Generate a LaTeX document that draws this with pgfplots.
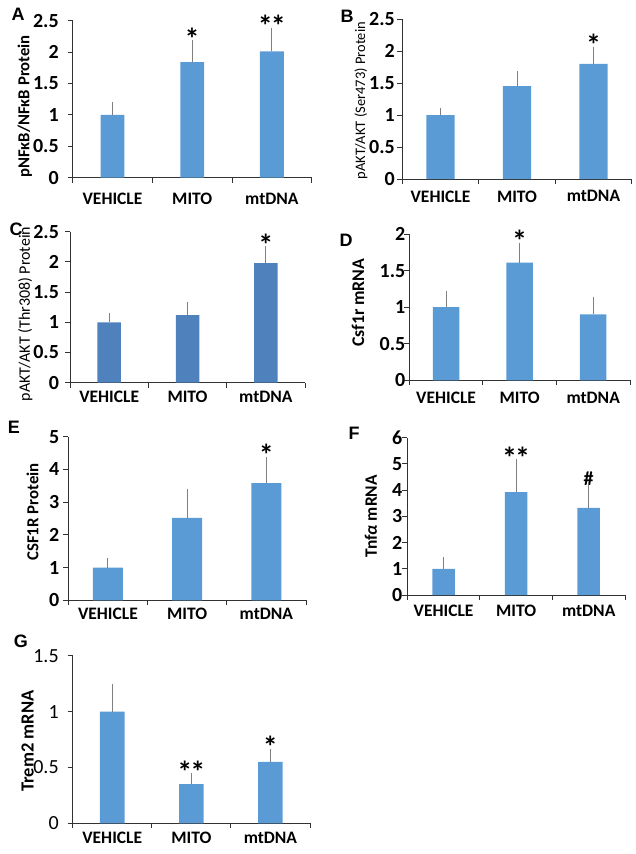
\documentclass[border=0pt]{standalone}
\usepackage{pgfplots}
\pgfplotsset{compat=1.18}
\usepackage{fontspec}
\setmainfont{Carlito}
\newfontfamily\letterfont{Liberation Sans}

\definecolor{barblue}{RGB}{91,155,213}
\definecolor{bardark}{RGB}{79,129,189}
\definecolor{errgray}{RGB}{128,128,128}
\definecolor{axisgray}{RGB}{50,50,50}

\newcommand\tickfont{\fontsize{20}{22}\selectfont\bfseries}
\newcommand\catfont{\fontsize{17.5}{19}\selectfont\bfseries}
\newcommand\starfont{\fontsize{30}{32}\selectfont\bfseries}
\newcommand\letfont{\letterfont\fontsize{18}{20}\selectfont\bfseries}
\newcommand\dstar{*\kern-2pt*}

\tikzset{star/.style={anchor=base, inner sep=0, yshift=-6pt, font=\starfont}}

\pgfplotsset{
  panel/.style={
    scale only axis,
    axis x line*=bottom, axis y line*=left,
    xmin=-0.5, xmax=2.5, ymin=0,
    enlargelimits=false,
    xtick={0,1,2}, xticklabels={VEHICLE,MITO,mtDNA},
    minor xtick={-0.5,0.5,1.5,2.5},
    tick align=outside,
    major tick length=5pt, minor tick length=5pt,
    tick style={axisgray, line width=0.9pt},
    major x tick style={draw=none},
    axis line style={axisgray, line width=0.9pt},
    yticklabel style={font=\tickfont},
    xticklabel style={font=\catfont},
    /pgf/number format/assume math mode=true,
    ybar, bar shift=0pt,
    clip=false,
  },
  bars/.style={fill=barblue, draw=none,
    error bars/y dir=plus, error bars/y explicit,
    error bars/error bar style={errgray, line width=0.9pt},
    error bars/error mark options={errgray, line width=0.9pt, mark size=3pt},
  },
}

\begin{document}
\begin{tikzpicture}
\useasboundingbox (0,0) rectangle (635pt,-854pt);

% A
\begin{axis}[panel, at={(72.7pt,-177.7pt)}, anchor=south west,
  width=239pt, height=157pt, ymax=2.5, ytick={0,0.5,1,1.5,2,2.5},
  yticklabel style={xshift=-5.5pt}, xticklabel style={yshift=-7pt},
  ylabel={pNFκB/NFκB Protein},
  ylabel style={font=\fontsize{16.7}{18}\selectfont\bfseries, at={(axis description cs:-0.20,0.453)}, anchor=center}]
\addplot[bars, bar width=0.3] coordinates {(0,1.00) +- (0,0.15) (1,1.84) +- (0,0.30) (2,2.01) +- (0,0.33)};
\node[star] at (axis cs:1,2.14) {*};
\node[star] at (axis cs:2,2.34) {\dstar};
\end{axis}
\node[font=\letfont] at (18pt,-14pt) {A};

% B
\begin{axis}[panel, at={(402.3pt,-179pt)}, anchor=south west,
  width=229.4pt, height=160pt, ymax=2.5, ytick={0,0.5,1,1.5,2,2.5},
  yticklabel style={xshift=1pt}, xticklabel style={yshift=-3pt},
  ylabel={pAKT/AKT (Ser473) Protein},
  ylabel style={font=\fontsize{14.5}{16}\selectfont, at={(axis description cs:-0.18,0.49)}, anchor=center}]
\addplot[bars, bar width=0.37] coordinates {(0,1.00) +- (0,0.07) (1,1.45) +- (0,0.19) (2,1.80) +- (0,0.22)};
\node[star] at (axis cs:2,2.02) {*};
\end{axis}
\node[font=\letfont] at (347pt,-16pt) {B};

% C
\begin{axis}[panel, at={(70pt,-382.7pt)}, anchor=south west,
  width=235pt, height=151pt, ymax=2.5, ytick={0,0.5,1,1.5,2,2.5},
  yticklabel style={xshift=-2.5pt}, xticklabel style={yshift=0pt},
  ylabel={pAKT/AKT (Thr308) Protein},
  ylabel style={font=\fontsize{16}{18}\selectfont, at={(axis description cs:-0.19,0.455)}, anchor=center}]
\addplot[bars, fill=bardark, bar width=0.3] coordinates {(0,1.00) +- (0,0.11) (1,1.12) +- (0,0.17) (2,1.98) +- (0,0.23)};
\node[star] at (axis cs:2,2.21) {*};
\end{axis}
\node[font=\letfont] at (16pt,-229pt) {C};

% D
\begin{axis}[panel, at={(409.3pt,-380.3pt)}, anchor=south west,
  width=220.7pt, height=146.3pt, ymax=2, ytick={0,0.5,1,1.5,2},
  yticklabel style={xshift=4.5pt}, xticklabel style={yshift=-3pt},
  ylabel={Csf1r mRNA},
  ylabel style={font=\fontsize{17.8}{19}\selectfont\bfseries, at={(axis description cs:-0.232,0.53)}, anchor=center}]
\addplot[bars, bar width=0.36] coordinates {(0,1.00) +- (0,0.18) (1,1.61) +- (0,0.23) (2,0.90) +- (0,0.20)};
\node[star] at (axis cs:1,1.84) {*};
\end{axis}
\node[font=\letfont] at (346pt,-240pt) {D};

% E
\begin{axis}[panel, at={(68.3pt,-600.3pt)}, anchor=south west,
  width=237.7pt, height=163.6pt, ymax=5, ytick={0,1,2,3,4,5},
  yticklabel style={xshift=-0.5pt}, xticklabel style={yshift=1pt},
  ylabel={CSF1R Protein},
  ylabel style={font=\fontsize{16.8}{18}\selectfont\bfseries, at={(axis description cs:-0.15,0.54)}, anchor=center}]
\addplot[bars, bar width=0.38] coordinates {(0,1.00) +- (0,0.20) (1,2.52) +- (0,0.80) (2,3.58) +- (0,0.72)};
\node[star] at (axis cs:2,4.30) {*};
\end{axis}
\node[font=\letfont] at (14pt,-427pt) {E};

% F
\begin{axis}[panel, at={(407.3pt,-595pt)}, anchor=south west,
  width=217.7pt, height=157.3pt, ymax=6, ytick={0,1,2,3,4,5,6},
  yticklabel style={xshift=3.5pt}, xticklabel style={yshift=-1.5pt},
  ylabel={Tnf{\itshape α} mRNA},
  ylabel style={font=\fontsize{17.4}{19}\selectfont\bfseries, at={(axis description cs:-0.167,0.50)}, anchor=center}]
\addplot[bars, bar width=0.31] coordinates {(0,1.00) +- (0,0.32) (1,3.92) +- (0,1.15) (2,3.32) +- (0,0.76)};
\node[star] at (axis cs:1,5.07) {\dstar};
\node[anchor=base, inner sep=0, yshift=3pt, font=\fontsize{20}{22}\selectfont\bfseries] at (axis cs:2,4.08) {\#};
\end{axis}
\node[font=\letfont] at (354pt,-433pt) {F};

% G
\begin{axis}[panel, at={(72.7pt,-823.3pt)}, anchor=south west,
  width=237.3pt, height=167.6pt, ymax=1.5, ytick={0,0.5,1,1.5},
  yticklabel style={xshift=-5.5pt, font=\fontsize{20}{22}\selectfont}, xticklabel style={yshift=-0.5pt},
  ylabel={Trem2 mRNA},
  ylabel style={font=\fontsize{18.5}{20}\selectfont\bfseries, at={(axis description cs:-0.19,0.49)}, anchor=center}]
\addplot[bars, bar width=0.31] coordinates {(0,1.00) +- (0,0.22) (1,0.35) +- (0,0.07) (2,0.55) +- (0,0.09)};
\node[star] at (axis cs:1,0.42) {\dstar};
\node[star] at (axis cs:2,0.64) {*};
\end{axis}
\node[font=\letfont] at (21pt,-641pt) {G};

\end{tikzpicture}
\end{document}
